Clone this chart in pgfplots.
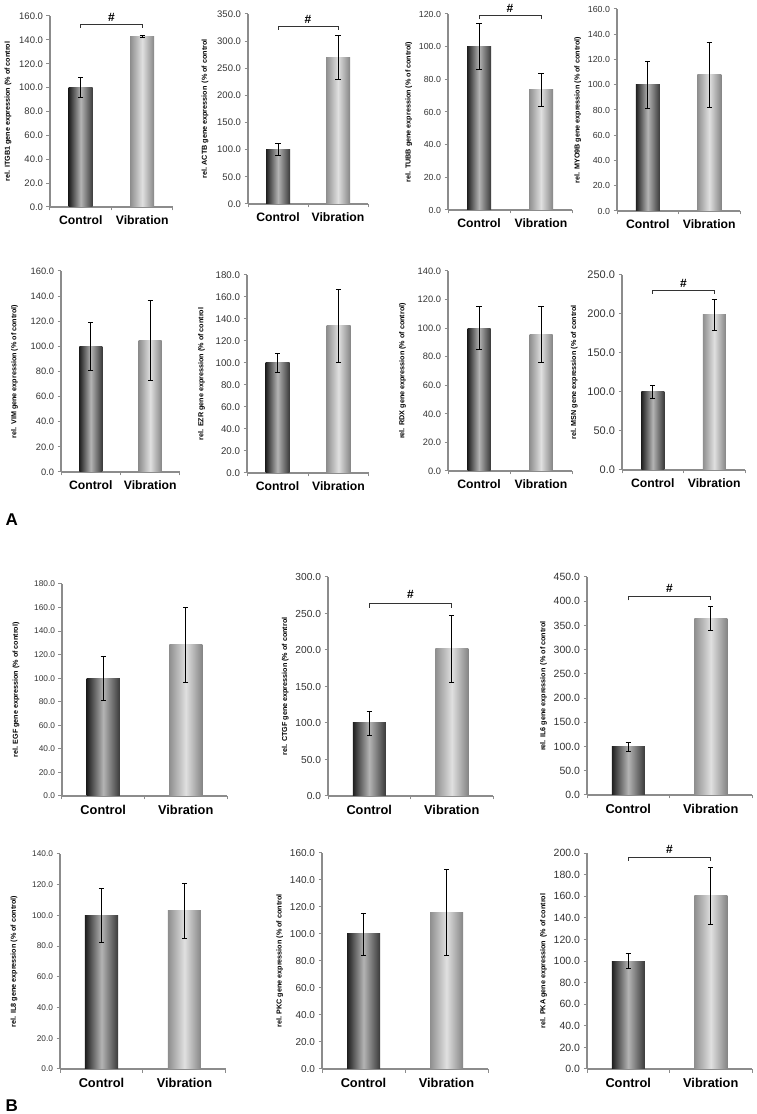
\documentclass[border=0pt]{standalone}
\usepackage{fontspec}
\setmainfont{Liberation Sans}
\usepackage{pgfplots}
\pgfplotsset{compat=1.18}
\definecolor{axgray}{HTML}{8C8C8C}
\definecolor{ctrlL}{HTML}{1E1E1E}
\definecolor{ctrlM}{HTML}{B4B4B4}
\definecolor{ctrlR}{HTML}{3A3A3A}
\definecolor{vibL}{HTML}{8E8E8E}
\definecolor{vibM}{HTML}{E0E0E0}
\definecolor{vibR}{HTML}{858585}
\pgfplotsset{
  gp/.style={
    scale only axis, clip=false,
    axis lines=left,
    axis line style={-, draw=axgray, line width=1.6pt},
    xmin=-0.5, xmax=1.5, ymin=0,
    xtick={-0.5,0.5,1.5}, xticklabels={},
    extra x ticks={0,1}, extra x tick labels={Control,Vibration},
    extra x tick style={major tick length=0pt},
    x tick label style={font=\fontsize{12.2}{12.2}\selectfont\bfseries, text=black, inner sep=2pt, yshift=-6pt},
    tick align=outside, major tick length=3.5pt,
    tick style={draw=axgray, line width=1pt},
    scaled y ticks=false,
    y tick label style={text=black!80, /pgf/number format/fixed, /pgf/number format/fixed zerofill, /pgf/number format/precision=1, /pgf/number format/assume math mode=true},
    ylabel style={font=\fontsize{7.2}{7.2}\selectfont\bfseries, text=black},
  },
  gpB/.style={gp, x tick label style={font=\fontsize{12.8}{12.8}\selectfont\bfseries, yshift=-1.5pt}},
  tf/.style={y tick label style={font=\fontsize{#1}{#1}\selectfont}},
  ctrlbar/.style={ybar, bar shift=0pt, draw=none, left color=ctrlL, right color=ctrlR, middle color=ctrlM,
    error bars/.cd, y dir=both, y explicit, error bar style={black, line width=0.6pt},
    error mark=-, error mark options={black, line width=0.6pt, mark size=2.6pt, rotate=90}},
  vibbar/.style={ybar, bar shift=0pt, draw=none, left color=vibL, right color=vibR, middle color=vibM,
    error bars/.cd, y dir=both, y explicit, error bar style={black, line width=0.6pt},
    error mark=-, error mark options={black, line width=0.6pt, mark size=2.6pt, rotate=90}},
}
\tikzset{bracket/.style={draw=black!80, line width=0.6pt}}
\newcommand\hash{\fontsize{12}{12}\selectfont\bfseries\#}
\begin{document}
\begin{tikzpicture}
\useasboundingbox (0pt,0pt) rectangle (757pt,1114pt);
% ---------------- Row A1 ----------------
\begin{axis}[gp, tf=9.5, at={(50pt,907pt)}, anchor=south west, width=123pt, height=191pt,
  ymax=160, ytick distance=20, bar width=24pt, ylabel={rel. ITGB1 gene expression (\% of control}, ylabel shift=1pt]
\addplot[ctrlbar] coordinates {(0,100) +- (0,8.5)};
\addplot[vibbar] coordinates {(1,143) +- (0,1)};
\draw[bracket] (axis cs:0,150) -- (axis cs:0,153) -- (axis cs:1,153) -- (axis cs:1,150);
\node[anchor=base] at (axis cs:0.5,155.5) {\hash};
\end{axis}
\begin{axis}[gp, tf=9.5, at={(248pt,910pt)}, anchor=south west, width=120pt, height=190pt,
  ymax=350, ytick distance=50, bar width=24pt, ylabel={rel. ACTB gene expression \,(\% of control}, ylabel shift=2pt]
\addplot[ctrlbar] coordinates {(0,100) +- (0,11)};
\addplot[vibbar] coordinates {(1,270) +- (0,41)};
\draw[bracket] (axis cs:0,321) -- (axis cs:0,327) -- (axis cs:1,327) -- (axis cs:1,321);
\node[anchor=base] at (axis cs:0.5,333) {\hash};
\end{axis}
\begin{axis}[gp, tf=8.8, at={(448pt,904pt)}, anchor=south west, width=124pt, height=196pt,
  ymax=120, ytick distance=20, bar width=24pt, ylabel={rel. TUBB gene expression (\% of control)}]
\addplot[ctrlbar] coordinates {(0,100) +- (0,14)};
\addplot[vibbar] coordinates {(1,73.5) +- (0,10)};
\draw[bracket] (axis cs:0,117) -- (axis cs:0,119.4) -- (axis cs:1,119.4) -- (axis cs:1,117);
\node[anchor=base] at (axis cs:0.5,121) {\hash};
\end{axis}
\begin{axis}[gp, tf=8.8, at={(617pt,903pt)}, anchor=south west, width=123pt, height=202pt,
  ymax=160, ytick distance=20, bar width=24pt, ylabel={rel. MYO9B gene expression (\% of control)}]
\addplot[ctrlbar] coordinates {(0,100) +- (0,18.5)};
\addplot[vibbar] coordinates {(1,108) +- (0,26)};
\end{axis}
% ---------------- Row A2 ----------------
\begin{axis}[gp, tf=9.3, at={(61pt,642pt)}, anchor=south west, width=119pt, height=201pt,
  ymax=160, ytick distance=20, bar width=23pt, ylabel={rel. VIM gene expression (\% of control)}, ylabel shift=6pt]
\addplot[ctrlbar] coordinates {(0,100) +- (0,19)};
\addplot[vibbar] coordinates {(1,105) +- (0,32)};
\end{axis}
\begin{axis}[gp, tf=9.7, at={(247pt,641pt)}, anchor=south west, width=122pt, height=198pt,
  ymax=180, ytick distance=20, bar width=24pt, ylabel={rel. EZR gene expression (\% of control}, ylabel shift=4pt]
\addplot[ctrlbar] coordinates {(0,100) +- (0,8.5)};
\addplot[vibbar] coordinates {(1,134) +- (0,33)};
\end{axis}
\begin{axis}[gp, tf=9.3, at={(448pt,643pt)}, anchor=south west, width=124pt, height=200pt,
  ymax=140, ytick distance=20, bar width=23pt, ylabel={rel. RDX gene expression (\% of control)}, ylabel shift=5pt]
\addplot[ctrlbar] coordinates {(0,100) +- (0,15)};
\addplot[vibbar] coordinates {(1,95.5) +- (0,19.5)};
\end{axis}
\begin{axis}[gp, tf=11, at={(622pt,644pt)}, anchor=south west, width=123pt, height=195pt,
  ymax=250, ytick distance=50, bar width=23pt, ylabel={rel. MSN gene expression (\% of control}, ylabel shift=3pt]
\addplot[ctrlbar] coordinates {(0,100) +- (0,8.3)};
\addplot[vibbar] coordinates {(1,199) +- (0,20)};
\draw[bracket] (axis cs:0,226) -- (axis cs:0,230) -- (axis cs:1,230) -- (axis cs:1,226);
\node[anchor=base] at (axis cs:0.5,234) {\hash};
\end{axis}
% ---------------- Row B1 ----------------
\begin{axis}[gpB, tf=8.3, at={(62pt,318pt)}, anchor=south west, width=165pt, height=212pt,
  ymax=180, ytick distance=20, bar width=33pt, ylabel={rel. EGF gene expression (\% of control)}, ylabel shift=8pt]
\addplot[ctrlbar] coordinates {(0,100) +- (0,19)};
\addplot[vibbar] coordinates {(1,128.5) +- (0,32)};
\end{axis}
\begin{axis}[gpB, tf=10.2, at={(328pt,318pt)}, anchor=south west, width=165pt, height=219pt,
  ymax=300, ytick distance=50, bar width=33pt, ylabel={rel. CTGF gene expression (\% of control}]
\addplot[ctrlbar] coordinates {(0,100) +- (0,16.5)};
\addplot[vibbar] coordinates {(1,202) +- (0,46)};
\draw[bracket] (axis cs:0,258) -- (axis cs:0,264) -- (axis cs:1,264) -- (axis cs:1,258);
\node[anchor=base] at (axis cs:0.5,270) {\hash};
\end{axis}
\begin{axis}[gpB, tf=10.5, at={(587pt,319pt)}, anchor=south west, width=165pt, height=218pt,
  ymax=450, ytick distance=50, bar width=33pt, ylabel={rel. IL6 gene expression \,(\% of control}]
\addplot[ctrlbar] coordinates {(0,100) +- (0,9.6)};
\addplot[vibbar] coordinates {(1,365) +- (0,25)};
\draw[bracket] (axis cs:0,402) -- (axis cs:0,410) -- (axis cs:1,410) -- (axis cs:1,402);
\node[anchor=base] at (axis cs:0.5,419) {\hash};
\end{axis}
% ---------------- Row B2 ----------------
\begin{axis}[gpB, tf=8.3, at={(60pt,45pt)}, anchor=south west, width=166pt, height=215pt,
  ymax=140, ytick distance=20, bar width=33pt, ylabel={rel. IL8 gene expression (\% of control)}, ylabel shift=8pt]
\addplot[ctrlbar] coordinates {(0,100) +- (0,17.4)};
\addplot[vibbar] coordinates {(1,103) +- (0,18)};
\end{axis}
\begin{axis}[gpB, tf=10, at={(322pt,45pt)}, anchor=south west, width=166pt, height=216pt,
  ymax=160, ytick distance=20, bar width=33pt, ylabel={rel. PKC gene expression (\% of control}]
\addplot[ctrlbar] coordinates {(0,100) +- (0,15.6)};
\addplot[vibbar] coordinates {(1,116) +- (0,32)};
\end{axis}
\begin{axis}[gpB, tf=10.5, at={(587pt,45pt)}, anchor=south west, width=165pt, height=216pt,
  ymax=200, ytick distance=20, bar width=33pt, ylabel={rel. PKA gene expression \,(\% of control}]
\addplot[ctrlbar] coordinates {(0,100) +- (0,6.8)};
\addplot[vibbar] coordinates {(1,160.5) +- (0,26.5)};
\draw[bracket] (axis cs:0,192.6) -- (axis cs:0,196.3) -- (axis cs:1,196.3) -- (axis cs:1,192.6);
\node[anchor=base] at (axis cs:0.5,199.5) {\hash};
\end{axis}
% panel letters
\node[anchor=base west, font=\fontsize{17}{17}\selectfont\bfseries] at (2pt,588pt) {A};
\node[anchor=base west, font=\fontsize{17}{17}\selectfont\bfseries] at (2pt,2pt) {B};
\end{tikzpicture}
\end{document}
